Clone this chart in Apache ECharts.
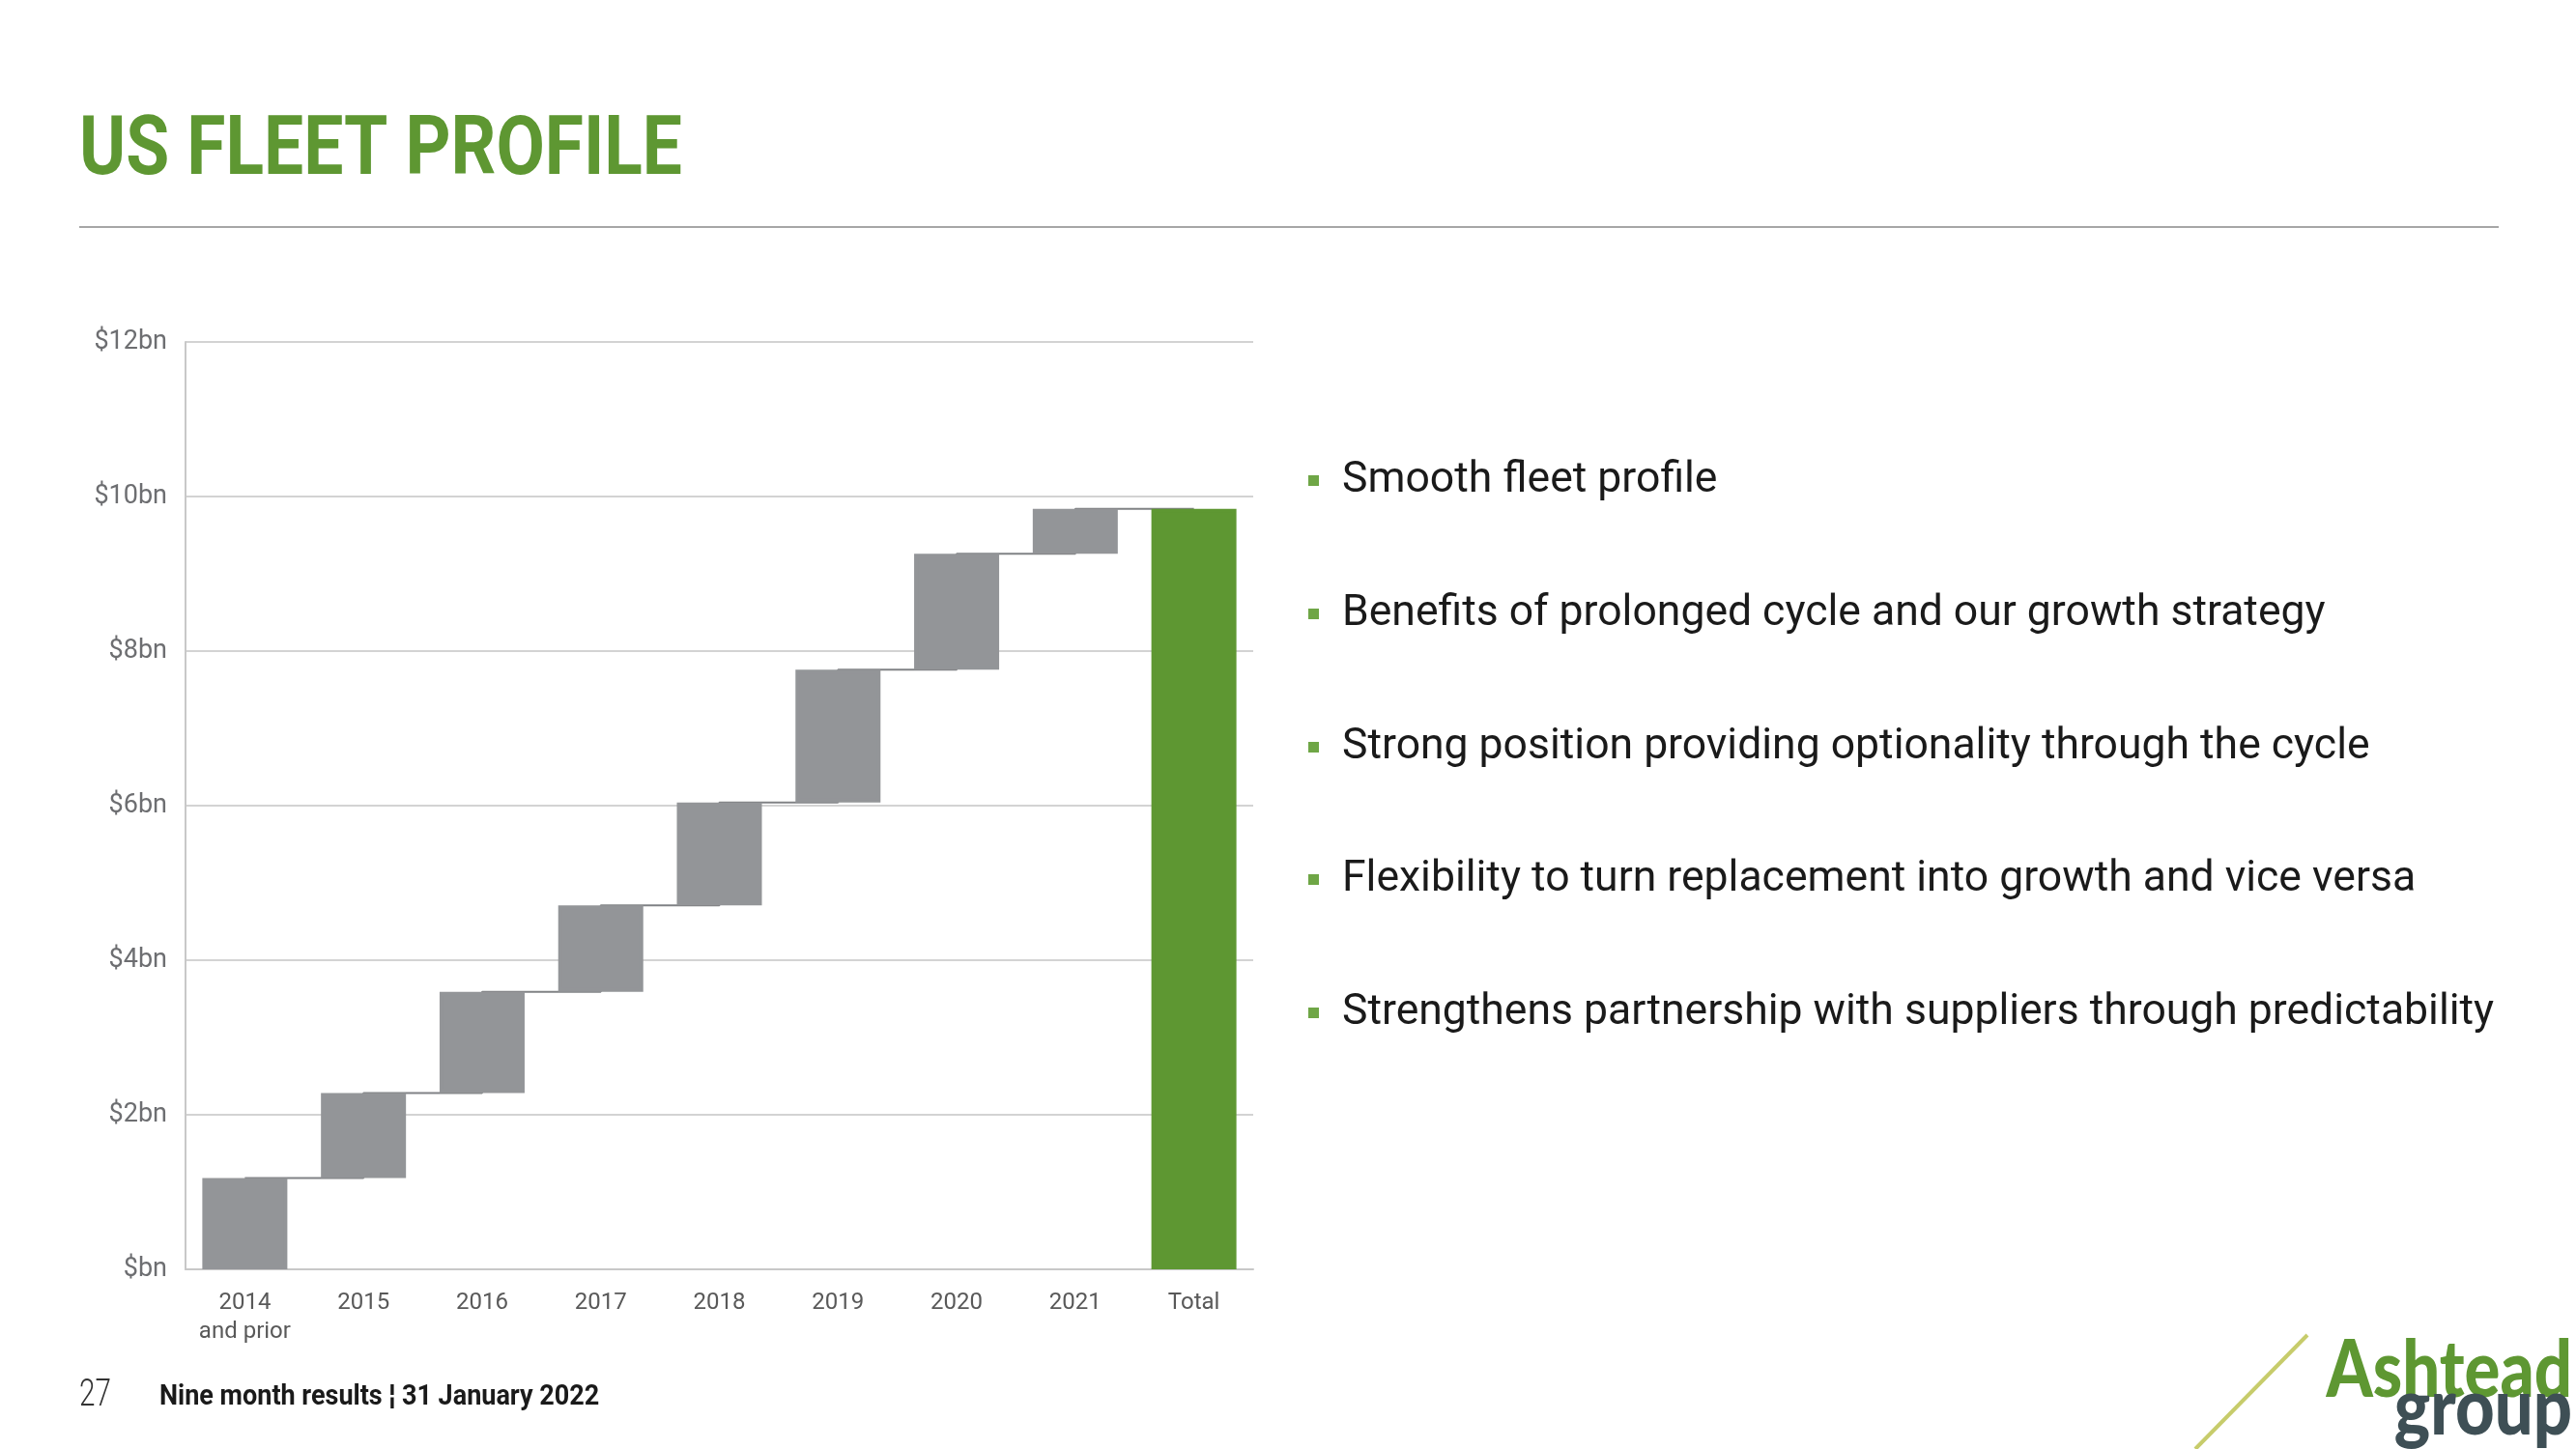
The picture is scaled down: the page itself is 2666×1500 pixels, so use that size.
<!DOCTYPE html>
<html>
<head>
<meta charset="utf-8">
<script src="https://cdn.jsdelivr.net/npm/echarts@6/dist/echarts.min.js"></script>
<style>
html,body{margin:0;padding:0;background:#fff;}
#chart{width:2666px;height:1500px;}
</style>
</head>
<body>
<div id="chart"></div>
<script>
// ---- data ----
const categories = ['2014\nand prior', '2015', '2016', '2017', '2018', '2019', '2020', '2021', 'Total'];
// running total at the end of each column ($bn)
const runningTotal = [1.18, 2.28, 3.59, 4.71, 6.04, 7.76, 9.26, 9.84, 9.84];
// which columns are the total column
const isTotal = [false, false, false, false, false, false, false, false, true];
const yTicks = [0, 2, 4, 6, 8, 10, 12];
const bullets = [
  'Smooth fleet profile',
  'Benefits of prolonged cycle and our growth strategy',
  'Strong position providing optionality through the cycle',
  'Flexibility to turn replacement into growth and vice versa',
  'Strengthens partnership with suppliers through predictability'
];
const titleText = 'US FLEET PROFILE';
const pageNumber = '27';
const footerText = 'Nine month results \u00A6 31 January 2022';

// ---- build waterfall from the running totals ----
const baseData = runningTotal.map((v, i) => (i === 0 || isTotal[i]) ? 0 : runningTotal[i - 1]);
const stepData = runningTotal.map((v, i) => +(v - baseData[i]).toFixed(3));

const GRAY = '#939598';
const GREEN = '#5e9732';

const chart = echarts.init(document.getElementById('chart'), null, {renderer: 'canvas'});

const bulletY = [498, 636, 774, 911, 1049];
const graphics = [
  {type: 'text', x: 82, y: 159, scaleX: 0.86, style: {text: titleText, font: 'bold 85px Roboto', fill: '#5e9732', verticalAlign: 'middle', align: 'left'}},
  {type: 'rect', shape: {x: 82, y: 234, width: 2504, height: 2}, style: {fill: '#a6a6a6'}},
  {type: 'text', x: 82, y: 1445, scaleX: 0.78, style: {text: pageNumber, font: '300 38px Roboto', fill: '#333', verticalAlign: 'middle'}},
  {type: 'text', x: 165, y: 1446, scaleX: 0.9, style: {text: footerText, font: 'bold 30px Roboto', fill: '#1a1a1a', verticalAlign: 'middle'}},
  {type: 'line', shape: {x1: 2272, y1: 1500, x2: 2388, y2: 1382}, style: {stroke: '#c7cc6b', lineWidth: 4}},
  {type: 'text', x: 2662, y: 1420, scaleX: 0.84, style: {text: 'Ashtead', font: '900 82px Lato', fill: '#5e9732', verticalAlign: 'middle', align: 'right'}},
  {type: 'text', x: 2662, y: 1459, scaleX: 0.86, style: {text: 'group', font: '900 82px Lato', fill: '#3e4f55', verticalAlign: 'middle', align: 'right'}}
];
bullets.forEach((b, i) => {
  graphics.push({type: 'rect', shape: {x: 1354, y: bulletY[i] - 6, width: 11, height: 11}, style: {fill: '#6fa646'}});
  graphics.push({type: 'text', x: 1389, y: bulletY[i], style: {text: b, font: '44.5px Roboto', fill: '#1a1a1a', verticalAlign: 'middle'}});
});

chart.setOption({
  animation: false,
  backgroundColor: '#ffffff',
  grid: {left: 192, top: 354, width: 1105, height: 960, containLabel: false},
  xAxis: {
    type: 'category',
    data: categories,
    boundaryGap: true,
    axisLine: {show: true, lineStyle: {color: '#c8c8c8', width: 2}},
    axisTick: {show: false},
    axisLabel: {color: '#595959', fontFamily: 'Roboto', fontSize: 24, lineHeight: 30, margin: 20, interval: 0}
  },
  yAxis: {
    type: 'value',
    min: yTicks[0],
    max: yTicks[yTicks.length - 1],
    interval: yTicks[1] - yTicks[0],
    axisLine: {show: true, lineStyle: {color: '#c8c8c8', width: 2}},
    axisTick: {show: false},
    splitLine: {show: true, lineStyle: {color: '#d3d3d3', width: 2}},
    axisLabel: {color: '#6d6e71', fontFamily: 'Roboto', fontSize: 27, margin: 19, formatter: v => v === 0 ? '$bn' : '$' + v + 'bn'}
  },
  series: [
    {
      name: 'connector', type: 'line', step: 'end', data: runningTotal,
      symbol: 'none', z: 1, silent: true,
      lineStyle: {color: '#808285', width: 2}
    },
    {
      name: 'base', type: 'bar', stack: 'wf', data: baseData, barWidth: 88, z: 2,
      itemStyle: {color: 'rgba(0,0,0,0)', borderWidth: 0}, silent: true
    },
    {
      name: 'value', type: 'bar', stack: 'wf', barWidth: 88, z: 3,
      data: stepData.map((v, i) => ({
        value: v,
        itemStyle: {color: isTotal[i] ? GREEN : GRAY, borderColor: isTotal[i] ? GREEN : GRAY, borderWidth: 4}
      }))
    }
  ],
  graphic: graphics
});
</script>
</body>
</html>
